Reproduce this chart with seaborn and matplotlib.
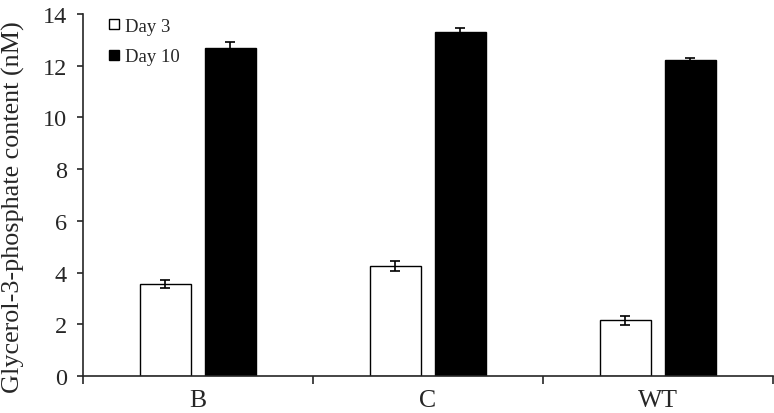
import numpy as np
import pandas as pd
import seaborn as sns
import matplotlib.pyplot as plt

# values (nM)
groups = ['B', 'C', 'WT']
day3 = [3.56, 4.26, 2.16]
day10 = [12.70, 13.30, 12.20]
day3_err = [0.14, 0.20, 0.18]
day10_err = [0.22, 0.15, 0.08]

df = pd.DataFrame({
    'group': groups * 2,
    'day': ['Day 3'] * 3 + ['Day 10'] * 3,
    'value': day3 + day10,
    'err': day3_err + day10_err,
})

sns.set_style('ticks')
plt.rcParams['font.family'] = ['Liberation Serif', 'DejaVu Serif']

fig = plt.figure(figsize=(7.74, 4.14), dpi=100)
ax = fig.add_axes([0.107, 0.089, 0.8915, 0.875])

sns.barplot(data=df, x='group', y='value', hue='day', order=groups,
            hue_order=['Day 3', 'Day 10'], palette=['white', 'black'],
            edgecolor='black', linewidth=1, width=0.565, gap=0.215,
            errorbar=None, legend=False, ax=ax)

# error bars on top of each bar
for bars, cont_df in zip(ax.containers, [df[df.day == 'Day 3'], df[df.day == 'Day 10']]):
    xs = [b.get_x() + b.get_width() / 2 for b in bars]
    ax.errorbar(xs, cont_df['value'].values, yerr=cont_df['err'].values,
                fmt='none', ecolor='black', elinewidth=1.2, capsize=3.5, capthick=1.2)

ax.set_ylim(0, 14)
ax.set_xlim(-0.5, 2.5)
ax.set_yticks(range(0, 15, 2))
ax.set_xticks([0, 1, 2])
ax.set_xticks([-0.5, 0.5, 1.5, 2.5], minor=True)
ax.tick_params(axis='x', which='major', length=0, labelsize=18.5, pad=9.5)
ax.tick_params(axis='x', which='minor', length=6, width=1.2, direction='out')
ax.tick_params(axis='y', labelsize=17.5, length=4.5, width=1.2, direction='out', pad=7)
for s in ['top', 'right']:
    ax.spines[s].set_visible(False)
for s in ['left', 'bottom']:
    ax.spines[s].set_linewidth(1.2)

ax.set_xlabel('')
ax.set_ylabel('Glycerol-3-phosphate content (nM)', fontsize=18.8)
ax.yaxis.set_label_coords(-0.084, 0.47)

h3 = plt.Line2D([], [], marker='s', linestyle='none', markerfacecolor='white',
                markeredgecolor='black', markersize=6.5)
h10 = plt.Line2D([], [], marker='s', linestyle='none', markerfacecolor='black',
                 markeredgecolor='black', markersize=6.5)
ax.legend([h3, h10], ['Day 3', 'Day 10'], loc='upper left',
          bbox_to_anchor=(0.022, 1.015), frameon=False, fontsize=13.5,
          handlelength=0.7, handletextpad=0.25, labelspacing=0.7, borderpad=0)

fig.savefig('out.png', dpi=100)
